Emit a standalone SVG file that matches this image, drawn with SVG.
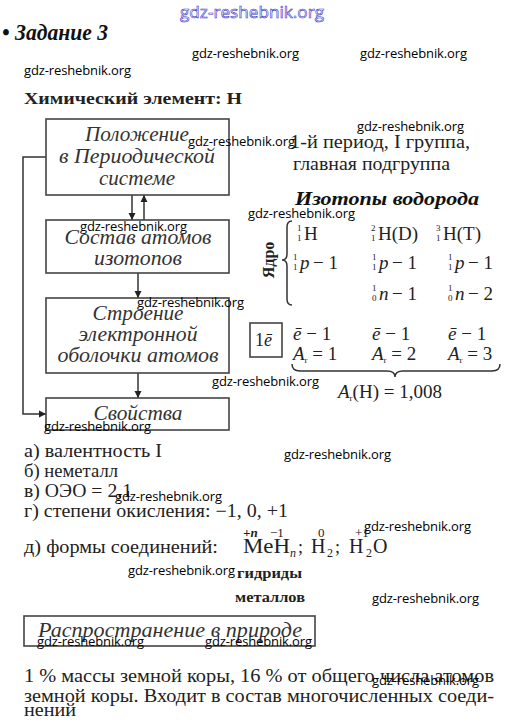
<svg xmlns="http://www.w3.org/2000/svg" width="505" height="720" viewBox="0 0 505 720">
<defs>
<style>
.s{font-family:"Liberation Serif","DejaVu Serif",serif;fill:#222}
.bi{font-family:"Liberation Serif","DejaVu Serif",serif;font-weight:bold;font-style:italic;fill:#111}
.it{font-family:"Liberation Serif","DejaVu Serif",serif;font-style:italic;font-size:20px;fill:#333}
.wm{font-family:"Open Sans","Noto Sans","Liberation Sans",sans-serif;font-size:13px;fill:#000}
.box{fill:none;stroke:#444;stroke-width:1.6}
.ln{fill:none;stroke:#333;stroke-width:1.5}
.sm{font-size:9px}
</style>
<marker id="ah" viewBox="0 0 10 10" refX="10" refY="5" markerWidth="7" markerHeight="9" orient="auto" markerUnits="userSpaceOnUse"><path d="M0,0L10,5L0,10z" fill="#222"/></marker>
</defs>
<rect width="505" height="720" fill="#fff"/>

<text x="252" y="18" text-anchor="middle" textLength="144" lengthAdjust="spacingAndGlyphs" font-family="Open Sans,Noto Sans,sans-serif" font-size="17" fill="#fff" stroke="#3535c8" stroke-width="0.6">gdz-reshebnik.org</text>

<text class="bi" x="2" y="40" font-size="23" textLength="106" lengthAdjust="spacingAndGlyphs">• Задание 3</text>
<text class="s" x="24" y="104" font-size="17" font-weight="bold" textLength="218" lengthAdjust="spacingAndGlyphs">Химический элемент: Н</text>

<g id="connectors">
<line class="ln" x1="132" y1="195" x2="132" y2="220" marker-end="url(#ah)"/>
<line class="ln" x1="144" y1="220" x2="144" y2="195" marker-end="url(#ah)"/>
<line class="ln" x1="138" y1="273" x2="138" y2="298" marker-end="url(#ah)"/>
<line class="ln" x1="138" y1="373" x2="138" y2="398" marker-end="url(#ah)"/>
<polyline class="ln" points="46,157 23,157 23,414 46,414" marker-end="url(#ah)"/>
</g>

<g id="node-position">
<rect class="box" x="46" y="119" width="183" height="76"/>
<text class="it" x="137" y="141" text-anchor="middle" textLength="104" lengthAdjust="spacingAndGlyphs">Положение</text>
<text class="it" x="137" y="163" text-anchor="middle" textLength="156" lengthAdjust="spacingAndGlyphs">в Периодической</text>
<text class="it" x="137" y="185" text-anchor="middle" textLength="76" lengthAdjust="spacingAndGlyphs">системе</text>
</g>
<g id="node-composition">
<rect class="box" x="46" y="220" width="183" height="53"/>
<text class="it" x="138" y="244" text-anchor="middle" textLength="147" lengthAdjust="spacingAndGlyphs">Состав атомов</text>
<text class="it" x="138" y="265" text-anchor="middle" textLength="88" lengthAdjust="spacingAndGlyphs">изотопов</text>
</g>
<g id="node-structure">
<rect class="box" x="46" y="298" width="183" height="75"/>
<text class="it" x="138" y="320" text-anchor="middle" textLength="91" lengthAdjust="spacingAndGlyphs">Строение</text>
<text class="it" x="138" y="341" text-anchor="middle" textLength="119" lengthAdjust="spacingAndGlyphs">электронной</text>
<text class="it" x="138" y="362" text-anchor="middle" textLength="161" lengthAdjust="spacingAndGlyphs">оболочки атомов</text>
</g>
<g id="node-properties">
<rect class="box" x="46" y="398" width="183" height="32"/>
<text class="it" x="138" y="420" text-anchor="middle" textLength="89" lengthAdjust="spacingAndGlyphs">Свойства</text>
</g>

<g id="period">
<text class="s" x="290" y="148" font-size="18" textLength="180" lengthAdjust="spacingAndGlyphs">1-й период, I группа,</text>
<text class="s" x="293" y="170" font-size="18" textLength="157" lengthAdjust="spacingAndGlyphs">главная подгруппа</text>
</g>

<g id="isotopes">
<text class="bi" x="295" y="205" font-size="19" textLength="184" lengthAdjust="spacingAndGlyphs">Изотопы водорода</text>
<text class="s" transform="translate(274,260) rotate(-90)" text-anchor="middle" font-size="16" font-weight="bold">Ядро</text>
<path class="ln" stroke-width="1.2" d="M292,221 q-5,0 -5,6 v27 q0,6 -5,6 q5,0 5,6 v33 q0,6 5,6"/>
<g class="s" font-size="19">
<text x="297" y="231" class="sm">1</text><text x="297" y="241" class="sm">1</text><text x="304" y="240">H</text>
<text x="371" y="231" class="sm">2</text><text x="371" y="241" class="sm">1</text><text x="378" y="240">H(D)</text>
<text x="436" y="231" class="sm">3</text><text x="436" y="241" class="sm">1</text><text x="443" y="240">H(T)</text>

<text x="293" y="260" class="sm">1</text><text x="293" y="270" class="sm">1</text><text x="300" y="269" font-style="italic">p</text><text x="313" y="269">− 1</text>
<text x="372" y="260" class="sm">1</text><text x="372" y="270" class="sm">1</text><text x="379" y="269" font-style="italic">p</text><text x="392" y="269">− 1</text>
<text x="448" y="260" class="sm">1</text><text x="448" y="270" class="sm">1</text><text x="455" y="269" font-style="italic">p</text><text x="468" y="269">− 1</text>

<text x="372" y="291" class="sm">1</text><text x="372" y="301" class="sm">0</text><text x="379" y="300" font-style="italic">n</text><text x="392" y="300">− 1</text>
<text x="448" y="291" class="sm">1</text><text x="448" y="301" class="sm">0</text><text x="455" y="300" font-style="italic">n</text><text x="468" y="300">− 2</text>

<text x="293" y="340"><tspan font-style="italic">ē</tspan> − 1</text>
<text x="372" y="340"><tspan font-style="italic">ē</tspan> − 1</text>
<text x="448" y="340"><tspan font-style="italic">ē</tspan> − 1</text>

<text x="293" y="360"><tspan font-style="italic">A</tspan><tspan font-size="9" dy="3">r</tspan><tspan dy="-3"> = 1</tspan></text>
<text x="372" y="360"><tspan font-style="italic">A</tspan><tspan font-size="9" dy="3">r</tspan><tspan dy="-3"> = 2</tspan></text>
<text x="448" y="360"><tspan font-style="italic">A</tspan><tspan font-size="9" dy="3">r</tspan><tspan dy="-3"> = 3</tspan></text>

<text x="338" y="398"><tspan font-style="italic">A</tspan><tspan font-size="9" dy="3">r</tspan><tspan dy="-3">(H) = 1,008</tspan></text>
</g>
<rect class="box" x="250" y="323" width="32" height="34"/>
<text class="s" x="255" y="346" font-size="18">1<tspan font-style="italic">ē</tspan></text>
<path class="ln" stroke-width="1.2" d="M292,364 q0,7 8,7 h87 q8,0 8,6 q0,-6 8,-6 h89 q8,0 8,-7"/>
</g>

<g id="list" class="s" font-size="18">
<text x="24" y="457" textLength="138" lengthAdjust="spacingAndGlyphs">а) валентность I</text>
<text x="24" y="477" textLength="94" lengthAdjust="spacingAndGlyphs">б) неметалл</text>
<text x="24" y="497" textLength="108" lengthAdjust="spacingAndGlyphs">в) ОЭО = 2,1</text>
<text x="24" y="517" textLength="264" lengthAdjust="spacingAndGlyphs">г) степени окисления: −1, 0, +1</text>
<text x="24" y="553" textLength="194" lengthAdjust="spacingAndGlyphs">д) формы соединений:</text>
</g>

<g id="compounds" class="s">
<text x="243" y="537" font-size="13" font-style="italic" font-weight="bold">+n</text>
<text x="270" y="537" font-size="13">−1</text>
<text x="318" y="537" font-size="13">0</text>
<text x="355" y="537" font-size="13">+1</text>
<text x="243" y="553" font-size="20" textLength="47" lengthAdjust="spacingAndGlyphs">MeH</text>
<text x="290" y="557" font-size="12" font-style="italic">n</text>
<text x="298" y="553" font-size="18">;</text>
<text x="311" y="553" font-size="20">H</text>
<text x="327" y="557" font-size="12">2</text>
<text x="335" y="553" font-size="18">;</text>
<text x="349" y="553" font-size="20">H</text>
<text x="366" y="557" font-size="12">2</text>
<text x="373" y="553" font-size="20">O</text>
<text x="237" y="578" font-size="15" font-weight="bold" textLength="65" lengthAdjust="spacingAndGlyphs">гидриды</text>
<text x="235" y="602" font-size="15" font-weight="bold" textLength="70" lengthAdjust="spacingAndGlyphs">металлов</text>
</g>

<g id="node-nature">
<rect class="box" x="24" y="616" width="291" height="30"/>
<text class="it" x="38" y="637" textLength="264" lengthAdjust="spacingAndGlyphs">Распространение в природе</text>
</g>

<g id="nature-text" class="s" font-size="18">
<text x="24" y="682" textLength="470" lengthAdjust="spacingAndGlyphs">1 % массы земной коры, 16 % от общего числа атомов</text>
<text x="24" y="702" textLength="470" lengthAdjust="spacingAndGlyphs">земной коры. Входит в состав многочисленных соеди-</text>
<text x="24" y="716" textLength="52" lengthAdjust="spacingAndGlyphs">нений</text>
</g>

<g id="watermarks">
<text class="wm" x="192" y="58" textLength="107">gdz-reshebnik.org</text>
<text class="wm" x="360" y="58" textLength="107">gdz-reshebnik.org</text>
<text class="wm" x="24" y="75" textLength="107">gdz-reshebnik.org</text>
<text class="wm" x="357" y="131" textLength="107">gdz-reshebnik.org</text>
<text class="wm" x="188" y="146" textLength="107">gdz-reshebnik.org</text>
<text class="wm" x="248" y="218" textLength="107">gdz-reshebnik.org</text>
<text class="wm" x="80" y="231" textLength="107">gdz-reshebnik.org</text>
<text class="wm" x="137" y="307" textLength="107">gdz-reshebnik.org</text>
<text class="wm" x="212" y="386" textLength="107">gdz-reshebnik.org</text>
<text class="wm" x="44" y="431" textLength="107">gdz-reshebnik.org</text>
<text class="wm" x="284" y="459" textLength="107">gdz-reshebnik.org</text>
<text class="wm" x="115" y="501" textLength="107">gdz-reshebnik.org</text>
<text class="wm" x="364" y="531" textLength="107">gdz-reshebnik.org</text>
<text class="wm" x="128" y="575" textLength="107">gdz-reshebnik.org</text>
<text class="wm" x="372" y="603" textLength="107">gdz-reshebnik.org</text>
<text class="wm" x="37" y="646" textLength="107">gdz-reshebnik.org</text>
<text class="wm" x="205" y="646" textLength="107">gdz-reshebnik.org</text>
<text class="wm" x="372" y="685" textLength="107">gdz-reshebnik.org</text>
</g>
</svg>
